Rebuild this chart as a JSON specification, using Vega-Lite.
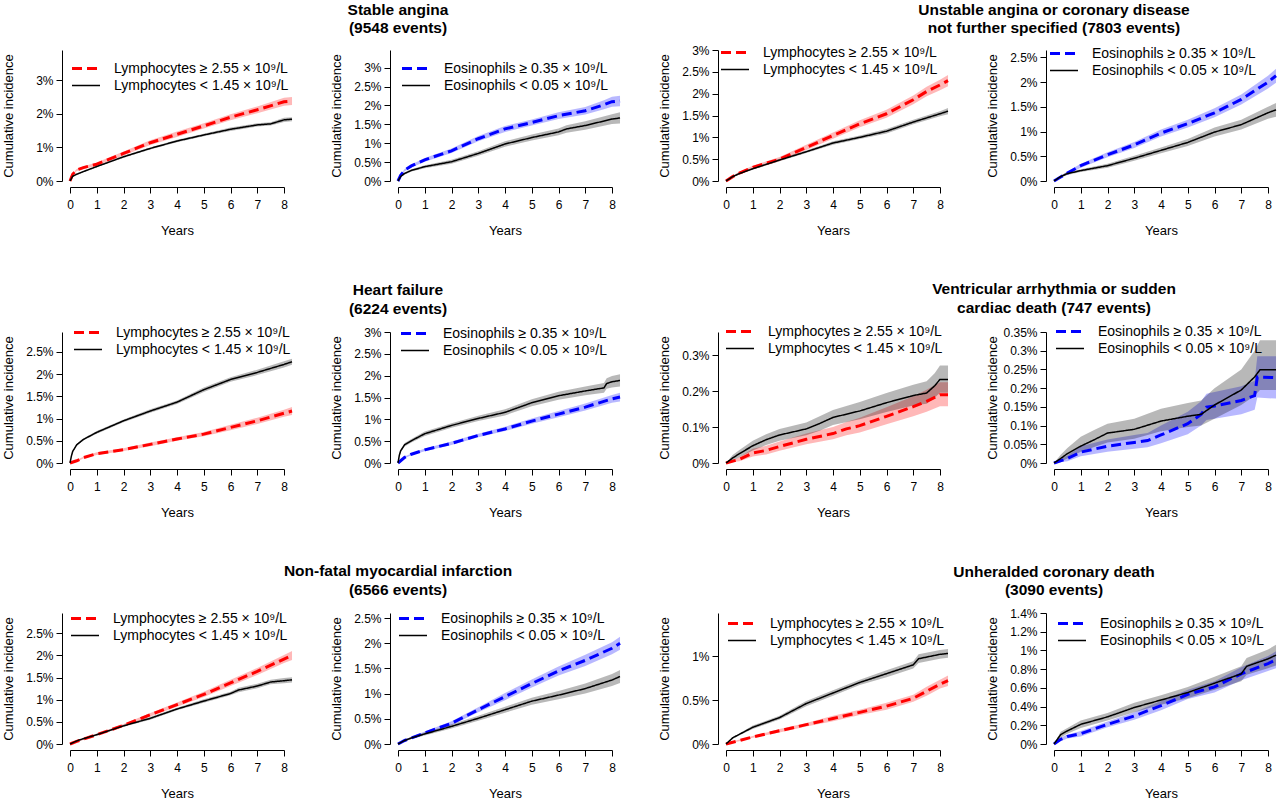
{
"$schema":"https://vega.github.io/schema/vega-lite/v6.json",
"padding":{"left":2,"top":2,"right":0,"bottom":0},
"datasets":{"d":[
{"p":"A","s":"h","t":0,"e":0,"l":0,"u":0},{"p":"A","s":"h","t":0.1,"e":0.2,"l":0.18,"u":0.22},{"p":"A","s":"h","t":0.25,"e":0.33,"l":0.3,"u":0.36},{"p":"A","s":"h","t":0.5,"e":0.4,"l":0.36,"u":0.44},{"p":"A","s":"h","t":1,"e":0.5,"l":0.45,"u":0.55},{"p":"A","s":"h","t":2,"e":0.82,"l":0.76,"u":0.88},{"p":"A","s":"h","t":3,"e":1.14,"l":1.07,"u":1.21},{"p":"A","s":"h","t":4,"e":1.39,"l":1.31,"u":1.47},{"p":"A","s":"h","t":5,"e":1.64,"l":1.56,"u":1.72},{"p":"A","s":"h","t":6,"e":1.9,"l":1.81,"u":1.99},{"p":"A","s":"h","t":7,"e":2.12,"l":2.02,"u":2.22},{"p":"A","s":"h","t":8,"e":2.36,"l":2.24,"u":2.48},{"p":"A","s":"h","t":8.3,"e":2.38,"l":2.26,"u":2.5},
{"p":"A","s":"l","t":0,"e":0,"l":0,"u":0},{"p":"A","s":"l","t":0.1,"e":0.14,"l":0.13,"u":0.15},{"p":"A","s":"l","t":0.25,"e":0.2,"l":0.18,"u":0.22},{"p":"A","s":"l","t":0.5,"e":0.28,"l":0.26,"u":0.3},{"p":"A","s":"l","t":1,"e":0.43,"l":0.41,"u":0.45},{"p":"A","s":"l","t":2,"e":0.72,"l":0.69,"u":0.75},{"p":"A","s":"l","t":3,"e":0.97,"l":0.94,"u":1.0},{"p":"A","s":"l","t":4,"e":1.19,"l":1.15,"u":1.23},{"p":"A","s":"l","t":5,"e":1.37,"l":1.33,"u":1.41},{"p":"A","s":"l","t":6,"e":1.54,"l":1.49,"u":1.59},{"p":"A","s":"l","t":7,"e":1.67,"l":1.62,"u":1.72},{"p":"A","s":"l","t":7.5,"e":1.7,"l":1.65,"u":1.75},{"p":"A","s":"l","t":8,"e":1.82,"l":1.76,"u":1.88},{"p":"A","s":"l","t":8.3,"e":1.84,"l":1.78,"u":1.9},
{"p":"B","s":"h","t":0,"e":0,"l":0,"u":0},{"p":"B","s":"h","t":0.1,"e":0.15,"l":0.13,"u":0.17},{"p":"B","s":"h","t":0.25,"e":0.29,"l":0.26,"u":0.32},{"p":"B","s":"h","t":0.5,"e":0.4,"l":0.36,"u":0.44},{"p":"B","s":"h","t":1,"e":0.56,"l":0.51,"u":0.61},{"p":"B","s":"h","t":2,"e":0.8,"l":0.74,"u":0.86},{"p":"B","s":"h","t":3,"e":1.12,"l":1.05,"u":1.19},{"p":"B","s":"h","t":4,"e":1.38,"l":1.3,"u":1.46},{"p":"B","s":"h","t":5,"e":1.55,"l":1.47,"u":1.63},{"p":"B","s":"h","t":6,"e":1.73,"l":1.64,"u":1.82},{"p":"B","s":"h","t":7,"e":1.86,"l":1.76,"u":1.96},{"p":"B","s":"h","t":7.7,"e":2.02,"l":1.9,"u":2.14},{"p":"B","s":"h","t":8,"e":2.1,"l":1.97,"u":2.23},{"p":"B","s":"h","t":8.3,"e":2.12,"l":1.98,"u":2.26},
{"p":"B","s":"l","t":0,"e":0,"l":0,"u":0},{"p":"B","s":"l","t":0.1,"e":0.12,"l":0.1,"u":0.14},{"p":"B","s":"l","t":0.25,"e":0.2,"l":0.17,"u":0.23},{"p":"B","s":"l","t":0.5,"e":0.28,"l":0.25,"u":0.31},{"p":"B","s":"l","t":1,"e":0.38,"l":0.34,"u":0.42},{"p":"B","s":"l","t":2,"e":0.51,"l":0.46,"u":0.56},{"p":"B","s":"l","t":3,"e":0.73,"l":0.67,"u":0.79},{"p":"B","s":"l","t":4,"e":0.98,"l":0.91,"u":1.05},{"p":"B","s":"l","t":5,"e":1.15,"l":1.07,"u":1.23},{"p":"B","s":"l","t":6,"e":1.3,"l":1.21,"u":1.39},{"p":"B","s":"l","t":6.3,"e":1.38,"l":1.28,"u":1.48},{"p":"B","s":"l","t":7,"e":1.47,"l":1.36,"u":1.58},{"p":"B","s":"l","t":8,"e":1.64,"l":1.51,"u":1.77},{"p":"B","s":"l","t":8.3,"e":1.67,"l":1.52,"u":1.82},
{"p":"C","s":"h","t":0,"e":0,"l":0,"u":0},{"p":"C","s":"h","t":0.25,"e":0.1,"l":0.08,"u":0.12},{"p":"C","s":"h","t":0.5,"e":0.18,"l":0.15,"u":0.21},{"p":"C","s":"h","t":1,"e":0.31,"l":0.27,"u":0.35},{"p":"C","s":"h","t":2,"e":0.5,"l":0.45,"u":0.55},{"p":"C","s":"h","t":3,"e":0.77,"l":0.71,"u":0.83},{"p":"C","s":"h","t":4,"e":1.04,"l":0.97,"u":1.11},{"p":"C","s":"h","t":5,"e":1.31,"l":1.23,"u":1.39},{"p":"C","s":"h","t":6,"e":1.54,"l":1.45,"u":1.63},{"p":"C","s":"h","t":7,"e":1.86,"l":1.76,"u":1.96},{"p":"C","s":"h","t":7.5,"e":2.05,"l":1.94,"u":2.16},{"p":"C","s":"h","t":8,"e":2.2,"l":2.08,"u":2.32},{"p":"C","s":"h","t":8.3,"e":2.3,"l":2.17,"u":2.43},
{"p":"C","s":"l","t":0,"e":0,"l":0,"u":0},{"p":"C","s":"l","t":0.25,"e":0.1,"l":0.09,"u":0.11},{"p":"C","s":"l","t":0.5,"e":0.17,"l":0.15,"u":0.19},{"p":"C","s":"l","t":1,"e":0.28,"l":0.26,"u":0.3},{"p":"C","s":"l","t":2,"e":0.48,"l":0.45,"u":0.51},{"p":"C","s":"l","t":3,"e":0.67,"l":0.64,"u":0.7},{"p":"C","s":"l","t":4,"e":0.87,"l":0.83,"u":0.91},{"p":"C","s":"l","t":5,"e":1.0,"l":0.96,"u":1.04},{"p":"C","s":"l","t":6,"e":1.14,"l":1.09,"u":1.19},{"p":"C","s":"l","t":7,"e":1.35,"l":1.3,"u":1.4},{"p":"C","s":"l","t":8,"e":1.54,"l":1.48,"u":1.6},{"p":"C","s":"l","t":8.3,"e":1.6,"l":1.53,"u":1.67},
{"p":"D","s":"h","t":0,"e":0,"l":0,"u":0},{"p":"D","s":"h","t":0.25,"e":0.08,"l":0.06,"u":0.1},{"p":"D","s":"h","t":0.5,"e":0.16,"l":0.13,"u":0.19},{"p":"D","s":"h","t":1,"e":0.31,"l":0.27,"u":0.35},{"p":"D","s":"h","t":2,"e":0.53,"l":0.48,"u":0.58},{"p":"D","s":"h","t":3,"e":0.73,"l":0.67,"u":0.79},{"p":"D","s":"h","t":4,"e":0.97,"l":0.9,"u":1.04},{"p":"D","s":"h","t":5,"e":1.16,"l":1.08,"u":1.24},{"p":"D","s":"h","t":6,"e":1.38,"l":1.29,"u":1.47},{"p":"D","s":"h","t":7,"e":1.65,"l":1.55,"u":1.75},{"p":"D","s":"h","t":8,"e":2.0,"l":1.87,"u":2.13},{"p":"D","s":"h","t":8.3,"e":2.13,"l":1.99,"u":2.27},
{"p":"D","s":"l","t":0,"e":0,"l":0,"u":0},{"p":"D","s":"l","t":0.25,"e":0.09,"l":0.07,"u":0.11},{"p":"D","s":"l","t":0.5,"e":0.15,"l":0.12,"u":0.18},{"p":"D","s":"l","t":1,"e":0.21,"l":0.18,"u":0.24},{"p":"D","s":"l","t":2,"e":0.31,"l":0.27,"u":0.35},{"p":"D","s":"l","t":3,"e":0.46,"l":0.41,"u":0.51},{"p":"D","s":"l","t":4,"e":0.62,"l":0.56,"u":0.68},{"p":"D","s":"l","t":5,"e":0.78,"l":0.71,"u":0.85},{"p":"D","s":"l","t":6,"e":0.99,"l":0.9,"u":1.08},{"p":"D","s":"l","t":7,"e":1.14,"l":1.04,"u":1.24},{"p":"D","s":"l","t":8,"e":1.38,"l":1.26,"u":1.5},{"p":"D","s":"l","t":8.3,"e":1.44,"l":1.3,"u":1.58},
{"p":"E","s":"h","t":0,"e":0,"l":0,"u":0},{"p":"E","s":"h","t":0.25,"e":0.05,"l":0.03,"u":0.07},{"p":"E","s":"h","t":0.5,"e":0.12,"l":0.1,"u":0.14},{"p":"E","s":"h","t":1,"e":0.21,"l":0.18,"u":0.24},{"p":"E","s":"h","t":2,"e":0.3,"l":0.27,"u":0.33},{"p":"E","s":"h","t":3,"e":0.42,"l":0.38,"u":0.46},{"p":"E","s":"h","t":4,"e":0.54,"l":0.5,"u":0.58},{"p":"E","s":"h","t":5,"e":0.65,"l":0.6,"u":0.7},{"p":"E","s":"h","t":6,"e":0.8,"l":0.74,"u":0.86},{"p":"E","s":"h","t":7,"e":0.95,"l":0.88,"u":1.02},{"p":"E","s":"h","t":8,"e":1.12,"l":1.04,"u":1.2},{"p":"E","s":"h","t":8.3,"e":1.17,"l":1.08,"u":1.26},
{"p":"E","s":"l","t":0,"e":0,"l":0,"u":0},{"p":"E","s":"l","t":0.05,"e":0.15,"l":0.14,"u":0.16},{"p":"E","s":"l","t":0.1,"e":0.26,"l":0.24,"u":0.28},{"p":"E","s":"l","t":0.25,"e":0.41,"l":0.39,"u":0.43},{"p":"E","s":"l","t":0.5,"e":0.53,"l":0.51,"u":0.55},{"p":"E","s":"l","t":1,"e":0.69,"l":0.66,"u":0.72},{"p":"E","s":"l","t":2,"e":0.95,"l":0.92,"u":0.98},{"p":"E","s":"l","t":3,"e":1.17,"l":1.13,"u":1.21},{"p":"E","s":"l","t":4,"e":1.37,"l":1.33,"u":1.41},{"p":"E","s":"l","t":5,"e":1.65,"l":1.6,"u":1.7},{"p":"E","s":"l","t":6,"e":1.88,"l":1.83,"u":1.93},{"p":"E","s":"l","t":7,"e":2.04,"l":1.98,"u":2.1},{"p":"E","s":"l","t":8,"e":2.22,"l":2.15,"u":2.29},{"p":"E","s":"l","t":8.3,"e":2.28,"l":2.21,"u":2.35},
{"p":"F","s":"h","t":0,"e":0,"l":0,"u":0},{"p":"F","s":"h","t":0.25,"e":0.13,"l":0.11,"u":0.15},{"p":"F","s":"h","t":0.5,"e":0.2,"l":0.18,"u":0.22},{"p":"F","s":"h","t":1,"e":0.3,"l":0.27,"u":0.33},{"p":"F","s":"h","t":2,"e":0.45,"l":0.41,"u":0.49},{"p":"F","s":"h","t":3,"e":0.63,"l":0.59,"u":0.67},{"p":"F","s":"h","t":4,"e":0.78,"l":0.73,"u":0.83},{"p":"F","s":"h","t":5,"e":0.96,"l":0.9,"u":1.02},{"p":"F","s":"h","t":6,"e":1.12,"l":1.05,"u":1.19},{"p":"F","s":"h","t":7,"e":1.28,"l":1.2,"u":1.36},{"p":"F","s":"h","t":8,"e":1.47,"l":1.38,"u":1.56},{"p":"F","s":"h","t":8.3,"e":1.51,"l":1.41,"u":1.61},
{"p":"F","s":"l","t":0,"e":0,"l":0,"u":0},{"p":"F","s":"l","t":0.05,"e":0.18,"l":0.16,"u":0.2},{"p":"F","s":"l","t":0.1,"e":0.28,"l":0.25,"u":0.31},{"p":"F","s":"l","t":0.25,"e":0.42,"l":0.38,"u":0.46},{"p":"F","s":"l","t":0.5,"e":0.51,"l":0.47,"u":0.55},{"p":"F","s":"l","t":1,"e":0.67,"l":0.62,"u":0.72},{"p":"F","s":"l","t":2,"e":0.86,"l":0.81,"u":0.91},{"p":"F","s":"l","t":3,"e":1.02,"l":0.96,"u":1.08},{"p":"F","s":"l","t":4,"e":1.16,"l":1.09,"u":1.23},{"p":"F","s":"l","t":5,"e":1.38,"l":1.3,"u":1.46},{"p":"F","s":"l","t":6,"e":1.54,"l":1.45,"u":1.63},{"p":"F","s":"l","t":7,"e":1.65,"l":1.55,"u":1.75},{"p":"F","s":"l","t":7.7,"e":1.72,"l":1.61,"u":1.83},{"p":"F","s":"l","t":7.8,"e":1.82,"l":1.7,"u":1.94},{"p":"F","s":"l","t":8,"e":1.86,"l":1.73,"u":1.99},{"p":"F","s":"l","t":8.3,"e":1.89,"l":1.75,"u":2.03},
{"p":"G","s":"h","t":0,"e":0,"l":0,"u":0},{"p":"G","s":"h","t":0.5,"e":0.01,"l":0.005,"u":0.016},{"p":"G","s":"h","t":1,"e":0.028,"l":0.018,"u":0.04},{"p":"G","s":"h","t":1.5,"e":0.035,"l":0.024,"u":0.048},{"p":"G","s":"h","t":2,"e":0.046,"l":0.034,"u":0.06},{"p":"G","s":"h","t":3,"e":0.066,"l":0.052,"u":0.082},{"p":"G","s":"h","t":4,"e":0.082,"l":0.066,"u":0.1},{"p":"G","s":"h","t":4.5,"e":0.095,"l":0.077,"u":0.114},{"p":"G","s":"h","t":5,"e":0.104,"l":0.085,"u":0.126},{"p":"G","s":"h","t":6,"e":0.13,"l":0.108,"u":0.155},{"p":"G","s":"h","t":7,"e":0.157,"l":0.13,"u":0.186},{"p":"G","s":"h","t":7.5,"e":0.172,"l":0.143,"u":0.204},{"p":"G","s":"h","t":8,"e":0.19,"l":0.158,"u":0.225},{"p":"G","s":"h","t":8.3,"e":0.19,"l":0.158,"u":0.225},
{"p":"G","s":"l","t":0,"e":0,"l":0,"u":0},{"p":"G","s":"l","t":0.25,"e":0.014,"l":0.007,"u":0.022},{"p":"G","s":"l","t":0.5,"e":0.026,"l":0.016,"u":0.036},{"p":"G","s":"l","t":1,"e":0.048,"l":0.035,"u":0.062},{"p":"G","s":"l","t":1.5,"e":0.065,"l":0.05,"u":0.08},{"p":"G","s":"l","t":2,"e":0.078,"l":0.062,"u":0.095},{"p":"G","s":"l","t":3,"e":0.095,"l":0.077,"u":0.113},{"p":"G","s":"l","t":3.5,"e":0.11,"l":0.09,"u":0.13},{"p":"G","s":"l","t":4,"e":0.127,"l":0.106,"u":0.148},{"p":"G","s":"l","t":5,"e":0.145,"l":0.122,"u":0.17},{"p":"G","s":"l","t":6,"e":0.168,"l":0.142,"u":0.195},{"p":"G","s":"l","t":7,"e":0.188,"l":0.16,"u":0.218},{"p":"G","s":"l","t":7.5,"e":0.195,"l":0.165,"u":0.228},{"p":"G","s":"l","t":7.8,"e":0.215,"l":0.182,"u":0.25},{"p":"G","s":"l","t":8,"e":0.233,"l":0.196,"u":0.272},{"p":"G","s":"l","t":8.3,"e":0.233,"l":0.196,"u":0.272},
{"p":"H","s":"h","t":0,"e":0,"l":0,"u":0},{"p":"H","s":"h","t":0.5,"e":0.012,"l":0.005,"u":0.02},{"p":"H","s":"h","t":1,"e":0.029,"l":0.018,"u":0.045},{"p":"H","s":"h","t":2,"e":0.045,"l":0.03,"u":0.063},{"p":"H","s":"h","t":3,"e":0.055,"l":0.038,"u":0.075},{"p":"H","s":"h","t":3.5,"e":0.06,"l":0.042,"u":0.08},{"p":"H","s":"h","t":4,"e":0.075,"l":0.053,"u":0.1},{"p":"H","s":"h","t":5,"e":0.105,"l":0.077,"u":0.137},{"p":"H","s":"h","t":5.5,"e":0.13,"l":0.1,"u":0.165},{"p":"H","s":"h","t":5.7,"e":0.149,"l":0.115,"u":0.185},{"p":"H","s":"h","t":6,"e":0.152,"l":0.118,"u":0.19},{"p":"H","s":"h","t":7,"e":0.167,"l":0.13,"u":0.205},{"p":"H","s":"h","t":7.5,"e":0.18,"l":0.142,"u":0.22},{"p":"H","s":"h","t":7.6,"e":0.23,"l":0.175,"u":0.285},{"p":"H","s":"h","t":8.3,"e":0.228,"l":0.172,"u":0.285},
{"p":"H","s":"l","t":0,"e":0,"l":0,"u":0},{"p":"H","s":"l","t":0.25,"e":0.012,"l":0.004,"u":0.022},{"p":"H","s":"l","t":0.5,"e":0.025,"l":0.012,"u":0.04},{"p":"H","s":"l","t":1,"e":0.045,"l":0.03,"u":0.07},{"p":"H","s":"l","t":1.5,"e":0.062,"l":0.043,"u":0.088},{"p":"H","s":"l","t":2,"e":0.08,"l":0.055,"u":0.105},{"p":"H","s":"l","t":3,"e":0.09,"l":0.065,"u":0.118},{"p":"H","s":"l","t":4,"e":0.112,"l":0.085,"u":0.145},{"p":"H","s":"l","t":5,"e":0.125,"l":0.096,"u":0.16},{"p":"H","s":"l","t":5.5,"e":0.13,"l":0.1,"u":0.167},{"p":"H","s":"l","t":6,"e":0.155,"l":0.118,"u":0.2},{"p":"H","s":"l","t":7,"e":0.195,"l":0.155,"u":0.25},{"p":"H","s":"l","t":7.5,"e":0.23,"l":0.18,"u":0.3},{"p":"H","s":"l","t":7.7,"e":0.249,"l":0.195,"u":0.328},{"p":"H","s":"l","t":8.3,"e":0.249,"l":0.195,"u":0.328},
{"p":"I","s":"h","t":0,"e":0,"l":0,"u":0},{"p":"I","s":"h","t":0.25,"e":0.06,"l":0.05,"u":0.07},{"p":"I","s":"h","t":0.5,"e":0.11,"l":0.09,"u":0.13},{"p":"I","s":"h","t":1,"e":0.21,"l":0.19,"u":0.23},{"p":"I","s":"h","t":2,"e":0.42,"l":0.39,"u":0.45},{"p":"I","s":"h","t":3,"e":0.66,"l":0.62,"u":0.7},{"p":"I","s":"h","t":4,"e":0.89,"l":0.84,"u":0.94},{"p":"I","s":"h","t":5,"e":1.12,"l":1.06,"u":1.18},{"p":"I","s":"h","t":6,"e":1.38,"l":1.31,"u":1.45},{"p":"I","s":"h","t":7,"e":1.64,"l":1.56,"u":1.72},{"p":"I","s":"h","t":8,"e":1.92,"l":1.83,"u":2.01},{"p":"I","s":"h","t":8.3,"e":2.0,"l":1.9,"u":2.1},
{"p":"I","s":"l","t":0,"e":0,"l":0,"u":0},{"p":"I","s":"l","t":0.25,"e":0.07,"l":0.06,"u":0.08},{"p":"I","s":"l","t":0.5,"e":0.12,"l":0.11,"u":0.13},{"p":"I","s":"l","t":1,"e":0.21,"l":0.19,"u":0.23},{"p":"I","s":"l","t":2,"e":0.41,"l":0.39,"u":0.43},{"p":"I","s":"l","t":3,"e":0.58,"l":0.55,"u":0.61},{"p":"I","s":"l","t":4,"e":0.79,"l":0.76,"u":0.82},{"p":"I","s":"l","t":5,"e":0.97,"l":0.93,"u":1.01},{"p":"I","s":"l","t":6,"e":1.14,"l":1.1,"u":1.18},{"p":"I","s":"l","t":6.3,"e":1.22,"l":1.17,"u":1.27},{"p":"I","s":"l","t":7,"e":1.31,"l":1.26,"u":1.36},{"p":"I","s":"l","t":7.5,"e":1.4,"l":1.35,"u":1.45},{"p":"I","s":"l","t":8,"e":1.43,"l":1.37,"u":1.49},{"p":"I","s":"l","t":8.3,"e":1.45,"l":1.39,"u":1.51},
{"p":"J","s":"h","t":0,"e":0,"l":0,"u":0},{"p":"J","s":"h","t":0.25,"e":0.07,"l":0.05,"u":0.09},{"p":"J","s":"h","t":0.5,"e":0.12,"l":0.1,"u":0.14},{"p":"J","s":"h","t":1,"e":0.22,"l":0.19,"u":0.25},{"p":"J","s":"h","t":2,"e":0.41,"l":0.37,"u":0.45},{"p":"J","s":"h","t":3,"e":0.68,"l":0.63,"u":0.73},{"p":"J","s":"h","t":4,"e":0.94,"l":0.87,"u":1.01},{"p":"J","s":"h","t":5,"e":1.2,"l":1.12,"u":1.28},{"p":"J","s":"h","t":6,"e":1.45,"l":1.36,"u":1.54},{"p":"J","s":"h","t":7,"e":1.66,"l":1.55,"u":1.77},{"p":"J","s":"h","t":8,"e":1.9,"l":1.78,"u":2.02},{"p":"J","s":"h","t":8.3,"e":2.0,"l":1.87,"u":2.13},
{"p":"J","s":"l","t":0,"e":0,"l":0,"u":0},{"p":"J","s":"l","t":0.25,"e":0.07,"l":0.05,"u":0.09},{"p":"J","s":"l","t":0.5,"e":0.12,"l":0.1,"u":0.14},{"p":"J","s":"l","t":1,"e":0.2,"l":0.17,"u":0.23},{"p":"J","s":"l","t":2,"e":0.35,"l":0.31,"u":0.39},{"p":"J","s":"l","t":3,"e":0.51,"l":0.46,"u":0.56},{"p":"J","s":"l","t":4,"e":0.68,"l":0.62,"u":0.74},{"p":"J","s":"l","t":5,"e":0.85,"l":0.78,"u":0.92},{"p":"J","s":"l","t":6,"e":0.97,"l":0.89,"u":1.05},{"p":"J","s":"l","t":7,"e":1.1,"l":1.0,"u":1.2},{"p":"J","s":"l","t":8,"e":1.27,"l":1.15,"u":1.39},{"p":"J","s":"l","t":8.3,"e":1.34,"l":1.21,"u":1.47},
{"p":"K","s":"h","t":0,"e":0,"l":0,"u":0},{"p":"K","s":"h","t":0.5,"e":0.04,"l":0.03,"u":0.05},{"p":"K","s":"h","t":1,"e":0.08,"l":0.07,"u":0.09},{"p":"K","s":"h","t":2,"e":0.15,"l":0.13,"u":0.17},{"p":"K","s":"h","t":3,"e":0.22,"l":0.2,"u":0.24},{"p":"K","s":"h","t":4,"e":0.29,"l":0.26,"u":0.32},{"p":"K","s":"h","t":5,"e":0.36,"l":0.33,"u":0.39},{"p":"K","s":"h","t":6,"e":0.43,"l":0.39,"u":0.47},{"p":"K","s":"h","t":7,"e":0.52,"l":0.48,"u":0.56},{"p":"K","s":"h","t":7.5,"e":0.6,"l":0.55,"u":0.65},{"p":"K","s":"h","t":8,"e":0.68,"l":0.63,"u":0.73},{"p":"K","s":"h","t":8.3,"e":0.72,"l":0.66,"u":0.78},
{"p":"K","s":"l","t":0,"e":0,"l":0,"u":0},{"p":"K","s":"l","t":0.25,"e":0.07,"l":0.06,"u":0.08},{"p":"K","s":"l","t":0.5,"e":0.11,"l":0.1,"u":0.12},{"p":"K","s":"l","t":1,"e":0.19,"l":0.17,"u":0.21},{"p":"K","s":"l","t":2,"e":0.3,"l":0.28,"u":0.32},{"p":"K","s":"l","t":3,"e":0.46,"l":0.43,"u":0.49},{"p":"K","s":"l","t":4,"e":0.58,"l":0.55,"u":0.61},{"p":"K","s":"l","t":5,"e":0.7,"l":0.67,"u":0.73},{"p":"K","s":"l","t":6,"e":0.8,"l":0.76,"u":0.84},{"p":"K","s":"l","t":7,"e":0.9,"l":0.86,"u":0.94},{"p":"K","s":"l","t":7.2,"e":0.97,"l":0.92,"u":1.02},{"p":"K","s":"l","t":8,"e":1.02,"l":0.97,"u":1.07},{"p":"K","s":"l","t":8.3,"e":1.03,"l":0.98,"u":1.08},
{"p":"L","s":"h","t":0,"e":0,"l":0,"u":0},{"p":"L","s":"h","t":0.25,"e":0.05,"l":0.03,"u":0.07},{"p":"L","s":"h","t":0.5,"e":0.08,"l":0.06,"u":0.1},{"p":"L","s":"h","t":1,"e":0.11,"l":0.08,"u":0.14},{"p":"L","s":"h","t":2,"e":0.21,"l":0.18,"u":0.24},{"p":"L","s":"h","t":3,"e":0.3,"l":0.26,"u":0.34},{"p":"L","s":"h","t":4,"e":0.41,"l":0.36,"u":0.46},{"p":"L","s":"h","t":5,"e":0.53,"l":0.48,"u":0.58},{"p":"L","s":"h","t":6,"e":0.61,"l":0.55,"u":0.67},{"p":"L","s":"h","t":7,"e":0.75,"l":0.68,"u":0.82},{"p":"L","s":"h","t":8,"e":0.86,"l":0.78,"u":0.94},{"p":"L","s":"h","t":8.3,"e":0.9,"l":0.81,"u":0.99},
{"p":"L","s":"l","t":0,"e":0,"l":0,"u":0},{"p":"L","s":"l","t":0.25,"e":0.1,"l":0.07,"u":0.13},{"p":"L","s":"l","t":0.5,"e":0.14,"l":0.11,"u":0.17},{"p":"L","s":"l","t":1,"e":0.21,"l":0.17,"u":0.25},{"p":"L","s":"l","t":2,"e":0.29,"l":0.25,"u":0.33},{"p":"L","s":"l","t":3,"e":0.39,"l":0.34,"u":0.44},{"p":"L","s":"l","t":4,"e":0.47,"l":0.42,"u":0.52},{"p":"L","s":"l","t":5,"e":0.55,"l":0.49,"u":0.61},{"p":"L","s":"l","t":6,"e":0.65,"l":0.58,"u":0.72},{"p":"L","s":"l","t":7,"e":0.75,"l":0.67,"u":0.83},{"p":"L","s":"l","t":7.2,"e":0.83,"l":0.74,"u":0.92},{"p":"L","s":"l","t":8,"e":0.91,"l":0.81,"u":1.01},{"p":"L","s":"l","t":8.3,"e":0.95,"l":0.84,"u":1.06}
]},
"data":{"name":"d"},
"spacing":45,
"resolve":{"scale":{"color":"independent","strokeDash":"independent"}},
"vconcat":[
{"hconcat":[
 {"title":{"text":["Stable angina","(9548 events)"],"dx":84,"offset":13.5},"spacing":31,"resolve":{"scale":{"color":"independent","strokeDash":"independent"}},"hconcat":[
  {"width":214,"height":131,"transform":[{"filter":"datum.p=='A'"}],
   "encoding":{"x":{"field":"t","type":"quantitative","scale":{"domain":[0,8],"nice":false},"title":"Years"},
    "y":{"field":"e","type":"quantitative","scale":{"domain":[0,3.9],"nice":false},"axis":{"values":[0,1,2,3],"labelExpr":"datum.value+'%'"},"title":"Cumulative incidence"}},
   "layer":[
    {"mark":{"type":"area","opacity":0.28},"encoding":{"y":{"field":"l","type":"quantitative","scale":{"domain":[0,3.9],"nice":false},"axis":{"values":[0,1,2,3],"labelExpr":"datum.value+'%'"},"title":"Cumulative incidence"},"y2":{"field":"u"},"detail":{"field":"s"},"fill":{"condition":{"test":"datum.s=='h'","value":"#ff0000"},"value":"#000000"}}},
    {"mark":{"type":"line"},"encoding":{"strokeWidth":{"condition":{"test":"datum.s=='h'","value":3},"value":1.5},"color":{"field":"s","type":"nominal","scale":{"domain":["h","l"],"range":["#ff0000","#000000"]},"legend":{"title":null,"labelExpr":"datum.value=='h'?'Lymphocytes ≥ 2.55 × 10⁹/L':'Lymphocytes < 1.45 × 10⁹/L'","legendX":9,"legendY":11.5,"encode":{"symbols":{"update":{"strokeWidth":{"signal":"datum.value=='h'?3:1.5"}}}}}},"strokeDash":{"field":"s","type":"nominal","scale":{"domain":["h","l"],"range":[[10,5],[1,0]]}}}}
   ]},
  {"width":214,"height":131,"transform":[{"filter":"datum.p=='B'"}],
   "encoding":{"x":{"field":"t","type":"quantitative","scale":{"domain":[0,8],"nice":false},"title":"Years"},
    "y":{"field":"e","type":"quantitative","scale":{"domain":[0,3.47],"nice":false},"axis":{"values":[0,0.5,1,1.5,2,2.5,3],"labelExpr":"datum.value+'%'"},"title":"Cumulative incidence"}},
   "layer":[
    {"mark":{"type":"area","opacity":0.28},"encoding":{"y":{"field":"l","type":"quantitative","scale":{"domain":[0,3.47],"nice":false},"axis":{"values":[0,0.5,1,1.5,2,2.5,3],"labelExpr":"datum.value+'%'"},"title":"Cumulative incidence"},"y2":{"field":"u"},"detail":{"field":"s"},"fill":{"condition":{"test":"datum.s=='h'","value":"#0000ff"},"value":"#000000"}}},
    {"mark":{"type":"line"},"encoding":{"strokeWidth":{"condition":{"test":"datum.s=='h'","value":3},"value":1.5},"color":{"field":"s","type":"nominal","scale":{"domain":["h","l"],"range":["#0000ff","#000000"]},"legend":{"title":null,"labelExpr":"datum.value=='h'?'Eosinophils ≥ 0.35 × 10⁹/L':'Eosinophils < 0.05 × 10⁹/L'","legendX":11,"legendY":11.5,"encode":{"symbols":{"update":{"strokeWidth":{"signal":"datum.value=='h'?3:1.5"}}}}}},"strokeDash":{"field":"s","type":"nominal","scale":{"domain":["h","l"],"range":[[10,5],[1,0]]}}}}
   ]}
 ]},
 {"title":{"text":["Unstable angina or coronary disease","not further specified (7803 events)"],"dx":84,"offset":7.5},"spacing":31,"resolve":{"scale":{"color":"independent","strokeDash":"independent"}},"hconcat":[
  {"width":214,"height":131,"transform":[{"filter":"datum.p=='C'"}],
   "encoding":{"x":{"field":"t","type":"quantitative","scale":{"domain":[0,8],"nice":false},"title":"Years"},
    "y":{"field":"e","type":"quantitative","scale":{"domain":[0,3.0],"nice":false},"axis":{"values":[0,0.5,1,1.5,2,2.5,3],"labelExpr":"datum.value+'%'"},"title":"Cumulative incidence"}},
   "layer":[
    {"mark":{"type":"area","opacity":0.28},"encoding":{"y":{"field":"l","type":"quantitative","scale":{"domain":[0,3.0],"nice":false},"axis":{"values":[0,0.5,1,1.5,2,2.5,3],"labelExpr":"datum.value+'%'"},"title":"Cumulative incidence"},"y2":{"field":"u"},"detail":{"field":"s"},"fill":{"condition":{"test":"datum.s=='h'","value":"#ff0000"},"value":"#000000"}}},
    {"mark":{"type":"line"},"encoding":{"strokeWidth":{"condition":{"test":"datum.s=='h'","value":3},"value":1.5},"color":{"field":"s","type":"nominal","scale":{"domain":["h","l"],"range":["#ff0000","#000000"]},"legend":{"title":null,"labelExpr":"datum.value=='h'?'Lymphocytes ≥ 2.55 × 10⁹/L':'Lymphocytes < 1.45 × 10⁹/L'","legendX":2,"legendY":-4.5,"encode":{"symbols":{"update":{"strokeWidth":{"signal":"datum.value=='h'?3:1.5"}}}}}},"strokeDash":{"field":"s","type":"nominal","scale":{"domain":["h","l"],"range":[[10,5],[1,0]]}}}}
   ]},
  {"width":214,"height":131,"transform":[{"filter":"datum.p=='D'"}],
   "encoding":{"x":{"field":"t","type":"quantitative","scale":{"domain":[0,8],"nice":false},"title":"Years"},
    "y":{"field":"e","type":"quantitative","scale":{"domain":[0,2.65],"nice":false},"axis":{"values":[0,0.5,1,1.5,2,2.5],"labelExpr":"datum.value+'%'"},"title":"Cumulative incidence"}},
   "layer":[
    {"mark":{"type":"area","opacity":0.28},"encoding":{"y":{"field":"l","type":"quantitative","scale":{"domain":[0,2.65],"nice":false},"axis":{"values":[0,0.5,1,1.5,2,2.5],"labelExpr":"datum.value+'%'"},"title":"Cumulative incidence"},"y2":{"field":"u"},"detail":{"field":"s"},"fill":{"condition":{"test":"datum.s=='h'","value":"#0000ff"},"value":"#000000"}}},
    {"mark":{"type":"line"},"encoding":{"strokeWidth":{"condition":{"test":"datum.s=='h'","value":3},"value":1.5},"color":{"field":"s","type":"nominal","scale":{"domain":["h","l"],"range":["#0000ff","#000000"]},"legend":{"title":null,"labelExpr":"datum.value=='h'?'Eosinophils ≥ 0.35 × 10⁹/L':'Eosinophils < 0.05 × 10⁹/L'","legendX":3,"legendY":-3.5,"encode":{"symbols":{"update":{"strokeWidth":{"signal":"datum.value=='h'?3:1.5"}}}}}},"strokeDash":{"field":"s","type":"nominal","scale":{"domain":["h","l"],"range":[[10,5],[1,0]]}}}}
   ]}
 ]}
],"spacing":31,"resolve":{"scale":{"color":"independent","strokeDash":"independent"}}},
{"hconcat":[
 {"title":{"text":["Heart failure","(6224 events)"],"dx":84,"offset":8.5},"spacing":31,"resolve":{"scale":{"color":"independent","strokeDash":"independent"}},"hconcat":[
  {"width":214,"height":131,"transform":[{"filter":"datum.p=='E'"}],
   "encoding":{"x":{"field":"t","type":"quantitative","scale":{"domain":[0,8],"nice":false},"title":"Years"},
    "y":{"field":"e","type":"quantitative","scale":{"domain":[0,2.95],"nice":false},"axis":{"values":[0,0.5,1,1.5,2,2.5],"labelExpr":"datum.value+'%'"},"title":"Cumulative incidence"}},
   "layer":[
    {"mark":{"type":"area","opacity":0.28},"encoding":{"y":{"field":"l","type":"quantitative","scale":{"domain":[0,2.95],"nice":false},"axis":{"values":[0,0.5,1,1.5,2,2.5],"labelExpr":"datum.value+'%'"},"title":"Cumulative incidence"},"y2":{"field":"u"},"detail":{"field":"s"},"fill":{"condition":{"test":"datum.s=='h'","value":"#ff0000"},"value":"#000000"}}},
    {"mark":{"type":"line"},"encoding":{"strokeWidth":{"condition":{"test":"datum.s=='h'","value":3},"value":1.5},"color":{"field":"s","type":"nominal","scale":{"domain":["h","l"],"range":["#ff0000","#000000"]},"legend":{"title":null,"labelExpr":"datum.value=='h'?'Lymphocytes ≥ 2.55 × 10⁹/L':'Lymphocytes < 1.45 × 10⁹/L'","legendX":11,"legendY":-6.5,"encode":{"symbols":{"update":{"strokeWidth":{"signal":"datum.value=='h'?3:1.5"}}}}}},"strokeDash":{"field":"s","type":"nominal","scale":{"domain":["h","l"],"range":[[10,5],[1,0]]}}}}
   ]},
  {"width":214,"height":131,"transform":[{"filter":"datum.p=='F'"}],
   "encoding":{"x":{"field":"t","type":"quantitative","scale":{"domain":[0,8],"nice":false},"title":"Years"},
    "y":{"field":"e","type":"quantitative","scale":{"domain":[0,3.0],"nice":false},"axis":{"values":[0,0.5,1,1.5,2,2.5,3],"labelExpr":"datum.value+'%'"},"title":"Cumulative incidence"}},
   "layer":[
    {"mark":{"type":"area","opacity":0.28},"encoding":{"y":{"field":"l","type":"quantitative","scale":{"domain":[0,3.0],"nice":false},"axis":{"values":[0,0.5,1,1.5,2,2.5,3],"labelExpr":"datum.value+'%'"},"title":"Cumulative incidence"},"y2":{"field":"u"},"detail":{"field":"s"},"fill":{"condition":{"test":"datum.s=='h'","value":"#0000ff"},"value":"#000000"}}},
    {"mark":{"type":"line"},"encoding":{"strokeWidth":{"condition":{"test":"datum.s=='h'","value":3},"value":1.5},"color":{"field":"s","type":"nominal","scale":{"domain":["h","l"],"range":["#0000ff","#000000"]},"legend":{"title":null,"labelExpr":"datum.value=='h'?'Eosinophils ≥ 0.35 × 10⁹/L':'Eosinophils < 0.05 × 10⁹/L'","legendX":10,"legendY":-5.5,"encode":{"symbols":{"update":{"strokeWidth":{"signal":"datum.value=='h'?3:1.5"}}}}}},"strokeDash":{"field":"s","type":"nominal","scale":{"domain":["h","l"],"range":[[10,5],[1,0]]}}}}
   ]}
 ]},
 {"title":{"text":["Ventricular arrhythmia or sudden","cardiac death (747 events)"],"dx":84,"offset":8.5},"spacing":31,"resolve":{"scale":{"color":"independent","strokeDash":"independent"}},"hconcat":[
  {"width":214,"height":131,"transform":[{"filter":"datum.p=='G'"}],
   "encoding":{"x":{"field":"t","type":"quantitative","scale":{"domain":[0,8],"nice":false},"title":"Years"},
    "y":{"field":"e","type":"quantitative","scale":{"domain":[0,0.365],"nice":false},"axis":{"values":[0,0.1,0.2,0.3],"labelExpr":"datum.value+'%'"},"title":"Cumulative incidence"}},
   "layer":[
    {"mark":{"type":"area","opacity":0.28},"encoding":{"y":{"field":"l","type":"quantitative","scale":{"domain":[0,0.365],"nice":false},"axis":{"values":[0,0.1,0.2,0.3],"labelExpr":"datum.value+'%'"},"title":"Cumulative incidence"},"y2":{"field":"u"},"detail":{"field":"s"},"fill":{"condition":{"test":"datum.s=='h'","value":"#ff0000"},"value":"#000000"}}},
    {"mark":{"type":"line"},"encoding":{"strokeWidth":{"condition":{"test":"datum.s=='h'","value":3},"value":1.5},"color":{"field":"s","type":"nominal","scale":{"domain":["h","l"],"range":["#ff0000","#000000"]},"legend":{"title":null,"labelExpr":"datum.value=='h'?'Lymphocytes ≥ 2.55 × 10⁹/L':'Lymphocytes < 1.45 × 10⁹/L'","legendX":7,"legendY":-7.5,"encode":{"symbols":{"update":{"strokeWidth":{"signal":"datum.value=='h'?3:1.5"}}}}}},"strokeDash":{"field":"s","type":"nominal","scale":{"domain":["h","l"],"range":[[10,5],[1,0]]}}}}
   ]},
  {"width":214,"height":131,"transform":[{"filter":"datum.p=='H'"}],
   "encoding":{"x":{"field":"t","type":"quantitative","scale":{"domain":[0,8],"nice":false},"title":"Years"},
    "y":{"field":"e","type":"quantitative","scale":{"domain":[0,0.35],"nice":false},"axis":{"values":[0,0.05,0.1,0.15,0.2,0.25,0.3,0.35],"labelExpr":"datum.value+'%'"},"title":"Cumulative incidence"}},
   "layer":[
    {"mark":{"type":"area","opacity":0.28},"encoding":{"y":{"field":"l","type":"quantitative","scale":{"domain":[0,0.35],"nice":false},"axis":{"values":[0,0.05,0.1,0.15,0.2,0.25,0.3,0.35],"labelExpr":"datum.value+'%'"},"title":"Cumulative incidence"},"y2":{"field":"u"},"detail":{"field":"s"},"fill":{"condition":{"test":"datum.s=='h'","value":"#0000ff"},"value":"#000000"}}},
    {"mark":{"type":"line"},"encoding":{"strokeWidth":{"condition":{"test":"datum.s=='h'","value":3},"value":1.5},"color":{"field":"s","type":"nominal","scale":{"domain":["h","l"],"range":["#0000ff","#000000"]},"legend":{"title":null,"labelExpr":"datum.value=='h'?'Eosinophils ≥ 0.35 × 10⁹/L':'Eosinophils < 0.05 × 10⁹/L'","legendX":9,"legendY":-7.5,"encode":{"symbols":{"update":{"strokeWidth":{"signal":"datum.value=='h'?3:1.5"}}}}}},"strokeDash":{"field":"s","type":"nominal","scale":{"domain":["h","l"],"range":[[10,5],[1,0]]}}}}
   ]}
 ]}
],"spacing":31,"resolve":{"scale":{"color":"independent","strokeDash":"independent"}}},
{"hconcat":[
 {"title":{"text":["Non-fatal myocardial infarction","(6566 events)"],"dx":84,"offset":13.5},"spacing":31,"resolve":{"scale":{"color":"independent","strokeDash":"independent"}},"hconcat":[
  {"width":214,"height":131,"transform":[{"filter":"datum.p=='I'"}],
   "encoding":{"x":{"field":"t","type":"quantitative","scale":{"domain":[0,8],"nice":false},"title":"Years"},
    "y":{"field":"e","type":"quantitative","scale":{"domain":[0,2.96],"nice":false},"axis":{"values":[0,0.5,1,1.5,2,2.5],"labelExpr":"datum.value+'%'"},"title":"Cumulative incidence"}},
   "layer":[
    {"mark":{"type":"area","opacity":0.28},"encoding":{"y":{"field":"l","type":"quantitative","scale":{"domain":[0,2.96],"nice":false},"axis":{"values":[0,0.5,1,1.5,2,2.5],"labelExpr":"datum.value+'%'"},"title":"Cumulative incidence"},"y2":{"field":"u"},"detail":{"field":"s"},"fill":{"condition":{"test":"datum.s=='h'","value":"#ff0000"},"value":"#000000"}}},
    {"mark":{"type":"line"},"encoding":{"strokeWidth":{"condition":{"test":"datum.s=='h'","value":3},"value":1.5},"color":{"field":"s","type":"nominal","scale":{"domain":["h","l"],"range":["#ff0000","#000000"]},"legend":{"title":null,"labelExpr":"datum.value=='h'?'Lymphocytes ≥ 2.55 × 10⁹/L':'Lymphocytes < 1.45 × 10⁹/L'","legendX":8,"legendY":-1.5,"encode":{"symbols":{"update":{"strokeWidth":{"signal":"datum.value=='h'?3:1.5"}}}}}},"strokeDash":{"field":"s","type":"nominal","scale":{"domain":["h","l"],"range":[[10,5],[1,0]]}}}}
   ]},
  {"width":214,"height":131,"transform":[{"filter":"datum.p=='J'"}],
   "encoding":{"x":{"field":"t","type":"quantitative","scale":{"domain":[0,8],"nice":false},"title":"Years"},
    "y":{"field":"e","type":"quantitative","scale":{"domain":[0,2.6],"nice":false},"axis":{"values":[0,0.5,1,1.5,2,2.5],"labelExpr":"datum.value+'%'"},"title":"Cumulative incidence"}},
   "layer":[
    {"mark":{"type":"area","opacity":0.28},"encoding":{"y":{"field":"l","type":"quantitative","scale":{"domain":[0,2.6],"nice":false},"axis":{"values":[0,0.5,1,1.5,2,2.5],"labelExpr":"datum.value+'%'"},"title":"Cumulative incidence"},"y2":{"field":"u"},"detail":{"field":"s"},"fill":{"condition":{"test":"datum.s=='h'","value":"#0000ff"},"value":"#000000"}}},
    {"mark":{"type":"line"},"encoding":{"strokeWidth":{"condition":{"test":"datum.s=='h'","value":3},"value":1.5},"color":{"field":"s","type":"nominal","scale":{"domain":["h","l"],"range":["#0000ff","#000000"]},"legend":{"title":null,"labelExpr":"datum.value=='h'?'Eosinophils ≥ 0.35 × 10⁹/L':'Eosinophils < 0.05 × 10⁹/L'","legendX":8,"legendY":-1.5,"encode":{"symbols":{"update":{"strokeWidth":{"signal":"datum.value=='h'?3:1.5"}}}}}},"strokeDash":{"field":"s","type":"nominal","scale":{"domain":["h","l"],"range":[[10,5],[1,0]]}}}}
   ]}
 ]},
 {"title":{"text":["Unheralded coronary death","(3090 events)"],"dx":84,"offset":8.5},"spacing":31,"resolve":{"scale":{"color":"independent","strokeDash":"independent"}},"hconcat":[
  {"width":214,"height":131,"transform":[{"filter":"datum.p=='K'"}],
   "encoding":{"x":{"field":"t","type":"quantitative","scale":{"domain":[0,8],"nice":false},"title":"Years"},
    "y":{"field":"e","type":"quantitative","scale":{"domain":[0,1.49],"nice":false},"axis":{"values":[0,0.5,1],"labelExpr":"datum.value+'%'"},"title":"Cumulative incidence"}},
   "layer":[
    {"mark":{"type":"area","opacity":0.28},"encoding":{"y":{"field":"l","type":"quantitative","scale":{"domain":[0,1.49],"nice":false},"axis":{"values":[0,0.5,1],"labelExpr":"datum.value+'%'"},"title":"Cumulative incidence"},"y2":{"field":"u"},"detail":{"field":"s"},"fill":{"condition":{"test":"datum.s=='h'","value":"#ff0000"},"value":"#000000"}}},
    {"mark":{"type":"line"},"encoding":{"strokeWidth":{"condition":{"test":"datum.s=='h'","value":3},"value":1.5},"color":{"field":"s","type":"nominal","scale":{"domain":["h","l"],"range":["#ff0000","#000000"]},"legend":{"title":null,"labelExpr":"datum.value=='h'?'Lymphocytes ≥ 2.55 × 10⁹/L':'Lymphocytes < 1.45 × 10⁹/L'","legendX":9,"legendY":3.5,"encode":{"symbols":{"update":{"strokeWidth":{"signal":"datum.value=='h'?3:1.5"}}}}}},"strokeDash":{"field":"s","type":"nominal","scale":{"domain":["h","l"],"range":[[10,5],[1,0]]}}}}
   ]},
  {"width":214,"height":131,"transform":[{"filter":"datum.p=='L'"}],
   "encoding":{"x":{"field":"t","type":"quantitative","scale":{"domain":[0,8],"nice":false},"title":"Years"},
    "y":{"field":"e","type":"quantitative","scale":{"domain":[0,1.4],"nice":false},"axis":{"values":[0,0.2,0.4,0.6,0.8,1,1.2,1.4],"labelExpr":"datum.value+'%'"},"title":"Cumulative incidence"}},
   "layer":[
    {"mark":{"type":"area","opacity":0.28},"encoding":{"y":{"field":"l","type":"quantitative","scale":{"domain":[0,1.4],"nice":false},"axis":{"values":[0,0.2,0.4,0.6,0.8,1,1.2,1.4],"labelExpr":"datum.value+'%'"},"title":"Cumulative incidence"},"y2":{"field":"u"},"detail":{"field":"s"},"fill":{"condition":{"test":"datum.s=='h'","value":"#0000ff"},"value":"#000000"}}},
    {"mark":{"type":"line"},"encoding":{"strokeWidth":{"condition":{"test":"datum.s=='h'","value":3},"value":1.5},"color":{"field":"s","type":"nominal","scale":{"domain":["h","l"],"range":["#0000ff","#000000"]},"legend":{"title":null,"labelExpr":"datum.value=='h'?'Eosinophils ≥ 0.35 × 10⁹/L':'Eosinophils < 0.05 × 10⁹/L'","legendX":11,"legendY":3.5,"encode":{"symbols":{"update":{"strokeWidth":{"signal":"datum.value=='h'?3:1.5"}}}}}},"strokeDash":{"field":"s","type":"nominal","scale":{"domain":["h","l"],"range":[[10,5],[1,0]]}}}}
   ]}
 ]}
],"spacing":31,"resolve":{"scale":{"color":"independent","strokeDash":"independent"}}}
],
"config":{
 "font":"Liberation Sans",
 "view":{"stroke":null},
 "axis":{"grid":false,"domainColor":"#000000","tickColor":"#000000","labelColor":"#000000","titleColor":"#000000","labelFontSize":12,"titleFontSize":13,"titleFontWeight":"normal","tickSize":6,"labelFlush":false,"labelOverlap":false},
 "axisX":{"offset":6,"tickCount":8,"labelPadding":6,"titleY":43,"titleBaseline":"middle"},
 "axisY":{"offset":8,"labelPadding":3,"titleX":-54,"titleBaseline":"middle"},
 "legend":{"orient":"none","labelFontSize":14,"labelLimit":400,"labelColor":"#000000","symbolType":"M-2,0H2","symbolSize":196,"labelOffset":21,"rowPadding":3,"padding":0},
 "title":{"fontSize":15.5,"fontWeight":"bold","color":"#000000","anchor":"middle","lineHeight":18.5}
}
}
